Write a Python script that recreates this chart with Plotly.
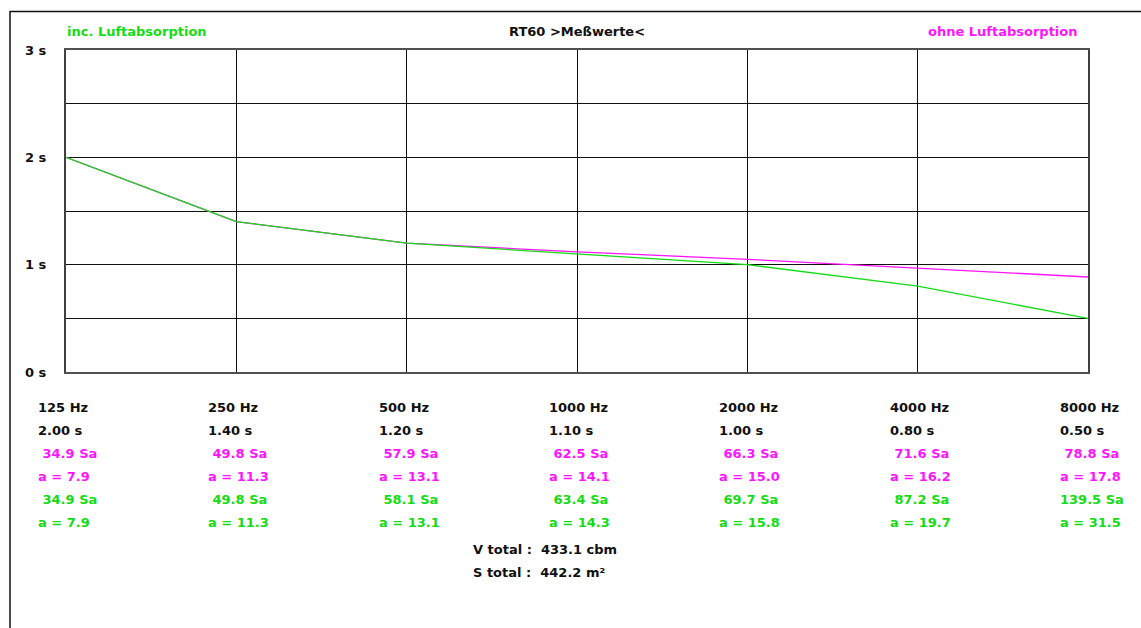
import plotly.graph_objects as go

# ---- data ----
freq_labels = ["125 Hz", "250 Hz", "500 Hz", "1000 Hz", "2000 Hz", "4000 Hz", "8000 Hz"]
rt_measured = [2.00, 1.40, 1.20, 1.10, 1.00, 0.80, 0.50]          # inc. Luftabsorption (green)
rt_no_air = [2.00, 1.40, 1.20, 1.12, 1.05, 0.97, 0.885]           # ohne Luftabsorption (magenta)
sa_no_air = [34.9, 49.8, 57.9, 62.5, 66.3, 71.6, 78.8]
a_no_air = [7.9, 11.3, 13.1, 14.1, 15.0, 16.2, 17.8]
sa_air = [34.9, 49.8, 58.1, 63.4, 69.7, 87.2, 139.5]
a_air = [7.9, 11.3, 13.1, 14.3, 15.8, 19.7, 31.5]
v_total = 433.1
s_total = 442.2
y_ticks = [0, 0.5, 1, 1.5, 2, 2.5, 3]
y_ticktext = ["0 s", "", "1 s", "", "2 s", "", "3 s"]

GREEN = "#14dc14"
MAGENTA = "#ff14ff"
BLACK = "#101010"
FONT = "DejaVu Sans"

W, H = 1141, 628
L, R, T, B = 66, 1088, 50, 372   # plot area in pixels
pw, ph = R - L, B - T

def px_x(p):
    return (p - L) / pw

def px_y(p):
    return (B - p) / ph

x_idx = list(range(len(freq_labels)))

fig = go.Figure()
fig.add_trace(go.Scatter(x=x_idx, y=rt_no_air, mode="lines",
                         line=dict(color=MAGENTA, width=1.3), showlegend=False, hoverinfo="skip"))
fig.add_trace(go.Scatter(x=x_idx, y=rt_measured, mode="lines",
                         line=dict(color=GREEN, width=1.3), showlegend=False, hoverinfo="skip"))

ann = []
def txt(text, x, y, color=BLACK, xref="x", yref="paper", xanchor="left", xshift=0, yshift=0):
    ann.append(dict(text=text, x=x, y=y, xref=xref, yref=yref, xanchor=xanchor,
                    yanchor="middle", xshift=xshift, yshift=yshift, showarrow=False,
                    font=dict(family=FONT, size=13, color=color, weight="bold")))

# header texts
txt("inc. Luftabsorption", 0, 1, GREEN, xref="paper", xanchor="left", xshift=-1, yshift=T - 31)
txt("RT60 &gt;Meßwerte&lt;", 3, 1, BLACK, xanchor="center", yshift=T - 31)
txt("ohne Luftabsorption", 1, 1, MAGENTA, xref="paper", xanchor="right", xshift=-8, yshift=T - 31)

# y tick labels
for v, t in zip(y_ticks, y_ticktext):
    if t:
        txt(t, px_x(23), v, BLACK, xref="paper", yref="y")

def pad(v):
    return f"{v:5.1f}".replace(" ", "\u00a0")

rows_y = [407, 430, 453, 476, 499, 522]
for i, f in enumerate(freq_labels):
    xs = -30
    txt(f, i, 0, BLACK, xshift=xs, yshift=B - rows_y[0])
    txt(f"{rt_measured[i]:.2f} s", i, 0, BLACK, xshift=xs, yshift=B - rows_y[1])
    txt(f"{pad(sa_no_air[i])} Sa", i, 0, MAGENTA, xshift=xs, yshift=B - rows_y[2])
    txt(f"a = {a_no_air[i]:.1f}", i, 0, MAGENTA, xshift=xs, yshift=B - rows_y[3])
    txt(f"{pad(sa_air[i])} Sa", i, 0, GREEN, xshift=xs, yshift=B - rows_y[4])
    txt(f"a = {a_air[i]:.1f}", i, 0, GREEN, xshift=xs, yshift=B - rows_y[5])

txt(f"V total :\u00a0\u00a0{v_total:.1f} cbm", px_x(471), 0, BLACK, xref="paper", yshift=B - 549)
txt(f"S total :\u00a0\u00a0{s_total:.1f} m²", px_x(471), 0, BLACK, xref="paper", yshift=B - 572)

shapes = [
    # outer frame: top and left lines
    dict(type="line", xref="paper", yref="paper", x0=px_x(10), x1=px_x(W + 5), y0=px_y(11.5), y1=px_y(11.5),
         line=dict(color=BLACK, width=1.5)),
    dict(type="line", xref="paper", yref="paper", x0=px_x(10), x1=px_x(10), y0=px_y(11), y1=px_y(H + 5),
         line=dict(color=BLACK, width=1.5)),
]

fig.update_layout(
    width=W, height=H, autosize=False,
    margin=dict(l=L, r=W - R, t=T, b=H - B, pad=0),
    paper_bgcolor="white", plot_bgcolor="white",
    annotations=ann, shapes=shapes, showlegend=False,
    xaxis=dict(range=[0, 6], tickvals=x_idx, showticklabels=False, ticks="",
               showgrid=True, gridcolor=BLACK, gridwidth=1, zeroline=False,
               showline=True, mirror=True, linecolor="#505050", linewidth=2, fixedrange=True),
    yaxis=dict(range=[0, 3], tickvals=y_ticks, showticklabels=False, ticks="",
               showgrid=True, gridcolor=BLACK, gridwidth=1, zeroline=False,
               showline=True, mirror=True, linecolor="#404040", linewidth=1.5, fixedrange=True),
)

fig.write_html("out.html", config={"displayModeBar": False},
               post_script="document.body.style.margin='0';document.body.style.overflow='hidden';")
